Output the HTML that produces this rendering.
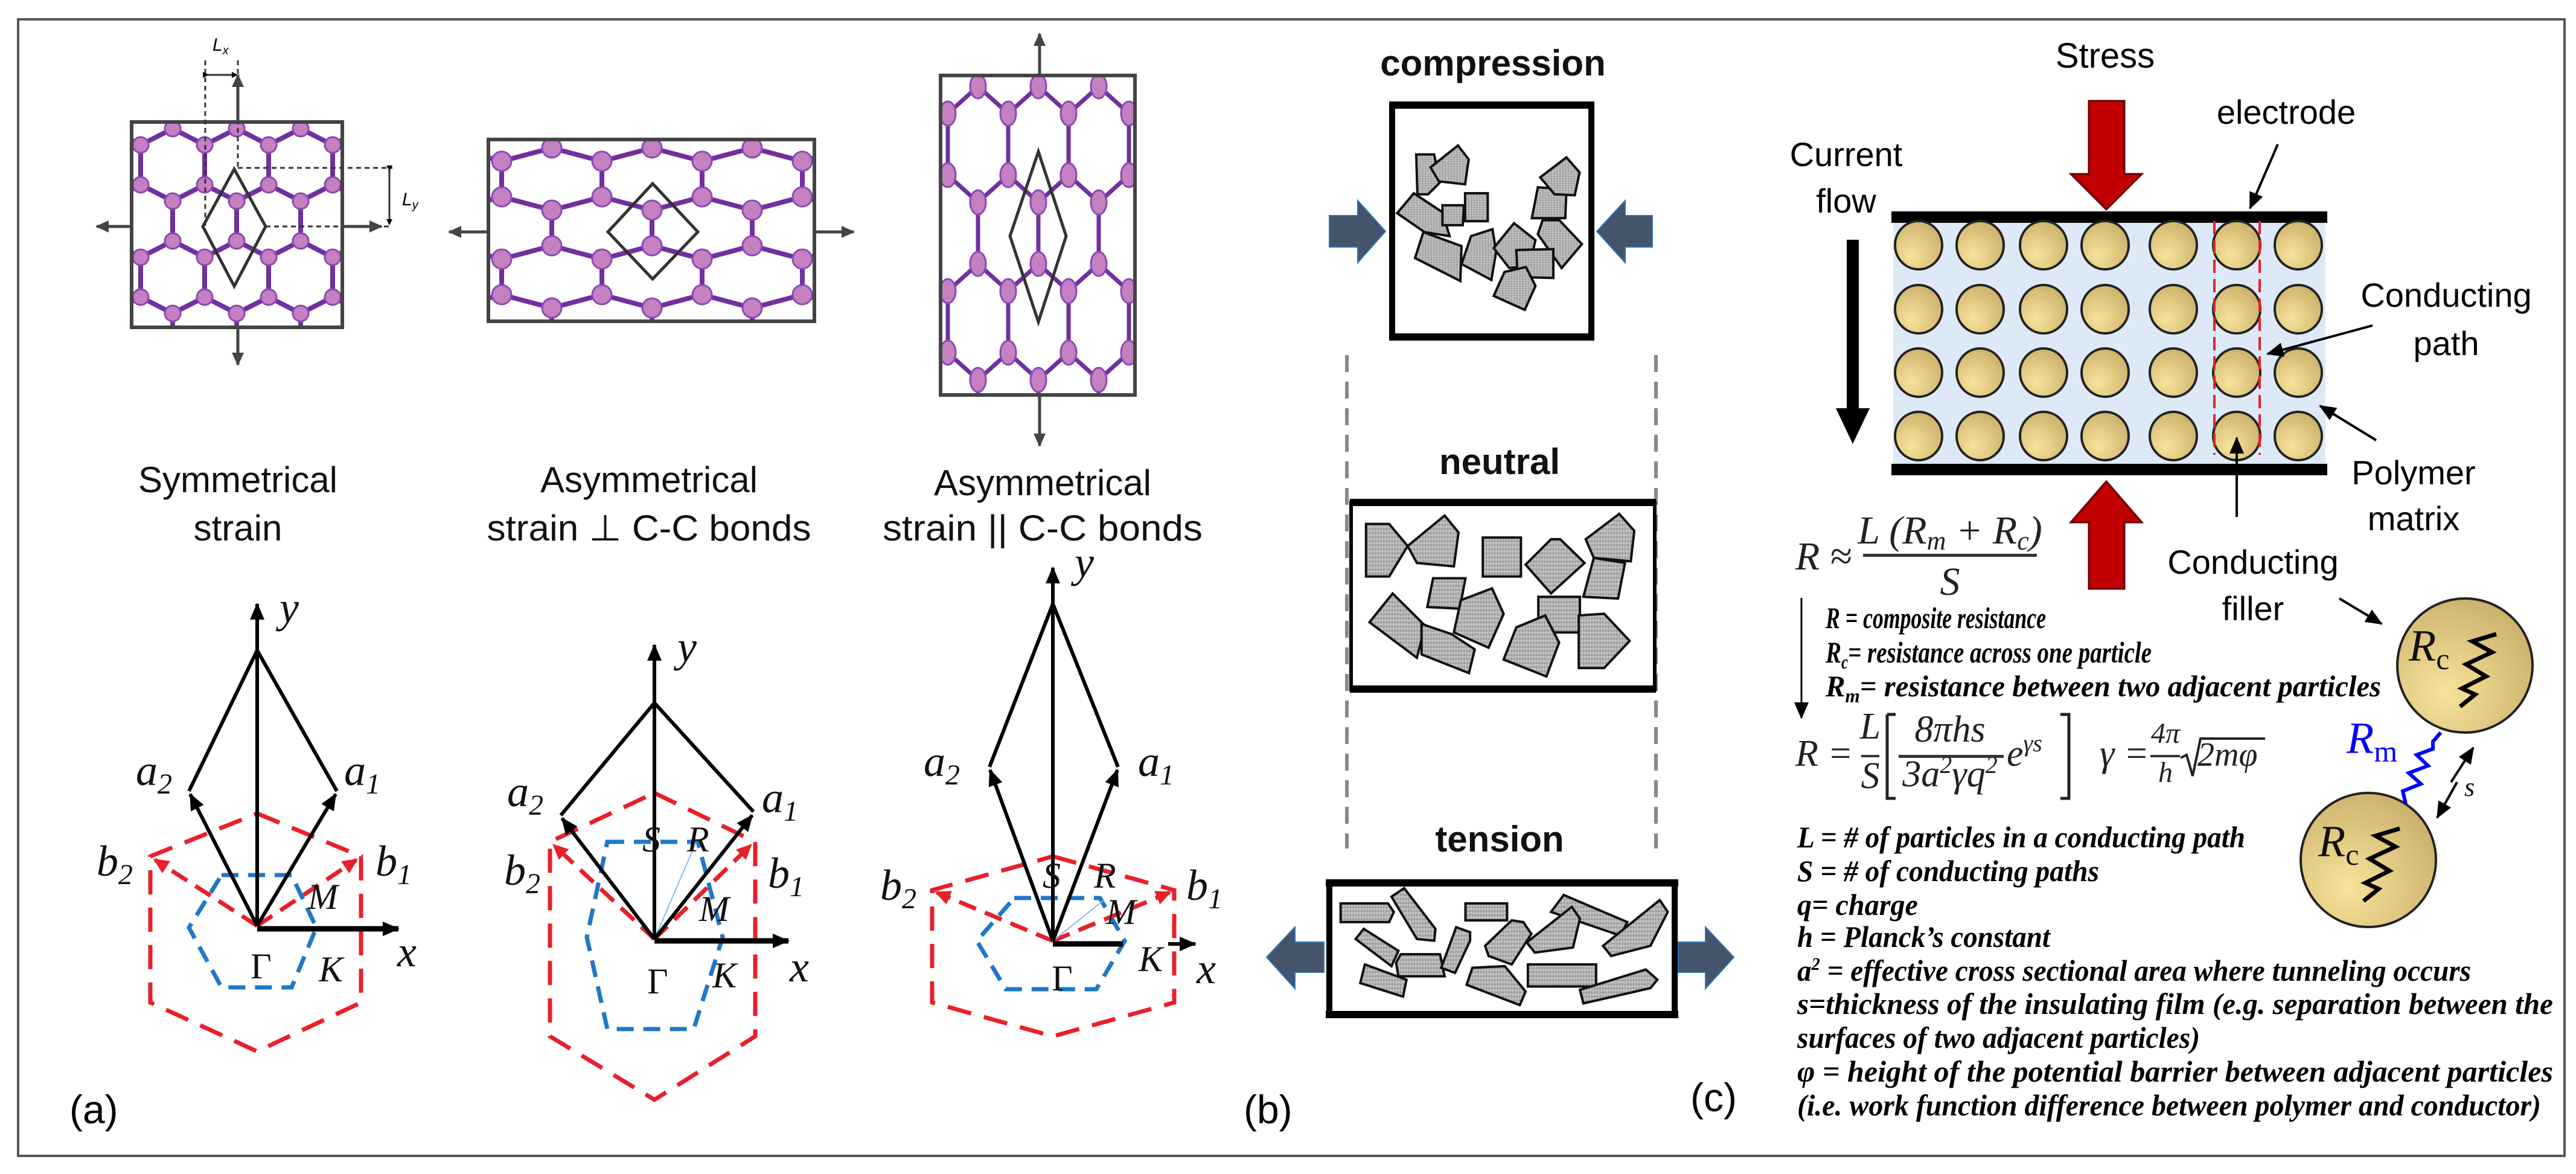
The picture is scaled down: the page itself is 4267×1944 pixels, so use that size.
<!DOCTYPE html>
<html><head><meta charset="utf-8"><style>
html,body{margin:0;padding:0;background:#fff}
svg{display:block}
text{font-family:"Liberation Sans",sans-serif}
.m text,text.m{font-family:"Liberation Serif",serif;font-style:italic}
text.d{font-family:"Liberation Serif",serif;font-style:italic;font-weight:bold;font-size:50px}
</style></head><body>
<svg width="4267" height="1944" viewBox="0 0 4267 1944" xmlns="http://www.w3.org/2000/svg">
<defs>
<marker id="ah" markerWidth="10" markerHeight="10" refX="8" refY="5" orient="auto" markerUnits="userSpaceOnUse" viewBox="0 0 10 10"><path d="M0,0 L10,5 L0,10 z" fill="#000"/></marker>
<marker id="ahb" markerWidth="28" markerHeight="24" refX="26" refY="12" orient="auto" markerUnits="userSpaceOnUse"><path d="M0,0 L28,12 L0,24 z" fill="#000"/></marker>
<marker id="ahg" markerWidth="22" markerHeight="20" refX="20" refY="10" orient="auto" markerUnits="userSpaceOnUse"><path d="M0,0 L22,10 L0,20 z" fill="#444"/></marker>
<marker id="ahr" markerWidth="26" markerHeight="24" refX="22" refY="12" orient="auto" markerUnits="userSpaceOnUse"><path d="M0,0 L26,12 L0,24 z" fill="#e8202a"/></marker>
<pattern id="p1" patternUnits="userSpaceOnUse" x="233" y="213" width="106" height="186">
<path d="M53,0 L0,27 M53,0 L106,27 M0,27 V93 M106,27 V93 M0,93 L53,120 L106,93 M53,120 V186" stroke="#7030a0" stroke-width="8" fill="none"/>
<g fill="#c580c0" stroke="#8a48b8" stroke-width="3"><circle cx="53" cy="0" r="13"/><circle cx="0" cy="27" r="13"/><circle cx="106" cy="27" r="13"/><circle cx="0" cy="93" r="13"/><circle cx="106" cy="93" r="13"/><circle cx="53" cy="120" r="13"/><circle cx="53" cy="186" r="13"/></g>
</pattern>
<pattern id="p2" patternUnits="userSpaceOnUse" x="831" y="245" width="166" height="162">
<path d="M83,0 L0,22 M83,0 L166,22 M0,22 V81 M166,22 V81 M0,81 L83,103 L166,81 M83,103 V162" stroke="#7030a0" stroke-width="8" fill="none"/>
<g fill="#c580c0" stroke="#8a48b8" stroke-width="3"><circle cx="83" cy="0" r="16"/><circle cx="0" cy="22" r="16"/><circle cx="166" cy="22" r="16"/><circle cx="0" cy="81" r="16"/><circle cx="166" cy="81" r="16"/><circle cx="83" cy="103" r="16"/><circle cx="83" cy="162" r="16"/></g>
</pattern>
<pattern id="p3" patternUnits="userSpaceOnUse" x="1570" y="143" width="100" height="294">
<path d="M50,0 L0,45 M50,0 L100,45 M0,45 V147 M100,45 V147 M0,147 L50,192 L100,147 M50,192 V294" stroke="#7030a0" stroke-width="7" fill="none"/>
<g fill="#c580c0" stroke="#8a48b8" stroke-width="3"><ellipse cx="50" cy="0" rx="13" ry="20"/><ellipse cx="0" cy="45" rx="13" ry="20"/><ellipse cx="100" cy="45" rx="13" ry="20"/><ellipse cx="0" cy="147" rx="13" ry="20"/><ellipse cx="100" cy="147" rx="13" ry="20"/><ellipse cx="50" cy="192" rx="13" ry="20"/><ellipse cx="50" cy="294" rx="13" ry="20"/></g>
</pattern>
<radialGradient id="gold" cx="0.35" cy="0.7" r="0.8"><stop offset="0" stop-color="#f7e39a"/><stop offset="1" stop-color="#c9ad68"/></radialGradient>
<pattern id="gr" patternUnits="userSpaceOnUse" width="12" height="12"><rect width="12" height="12" fill="#b4b4b4"/><circle cx="3" cy="4" r="2.5" fill="#8a8a8a"/><circle cx="9" cy="9" r="2" fill="#dcdcdc"/></pattern>
</defs>

<rect x="30" y="32" width="4218" height="1882" fill="none" stroke="#555" stroke-width="4"/>

<rect x="218" y="202" width="349" height="340" fill="url(#p1)" stroke="#444" stroke-width="6"/>
<rect x="809" y="231" width="540" height="301" fill="url(#p2)" stroke="#444" stroke-width="6"/>
<rect x="1558" y="125" width="322" height="529" fill="url(#p3)" stroke="#444" stroke-width="6"/>
<polygon points="388,280 440,375 388,474 336,375" fill="none" stroke="#333" stroke-width="5"/>
<polygon points="1081,304 1156,384 1081,462 1007,384" fill="none" stroke="#333" stroke-width="5"/>
<polygon points="1720,251 1766,391 1720,533 1673,391" fill="none" stroke="#333" stroke-width="5"/>
<g stroke="#333" stroke-width="3" stroke-dasharray="8,6" fill="none">
<line x1="340" y1="100" x2="340" y2="380"/><line x1="394" y1="100" x2="394" y2="280"/>
<line x1="394" y1="278" x2="650" y2="278"/><line x1="440" y1="375" x2="650" y2="375"/>
</g>
<line x1="344" y1="124" x2="392" y2="124" stroke="#333" stroke-width="3" marker-end="url(#ah)" marker-start="url(#ah)"/>
<line x1="645" y1="282" x2="645" y2="371" stroke="#333" stroke-width="3" marker-end="url(#ah)" marker-start="url(#ah)"/>
<text x="352" y="84" font-size="30" font-style="italic">L<tspan font-size="20" dy="6">x</tspan></text>
<text x="666" y="340" font-size="30" font-style="italic">L<tspan font-size="20" dy="6">y</tspan></text>
<g stroke="#444" stroke-width="5" fill="none">
<line x1="218" y1="375" x2="160" y2="375" marker-end="url(#ahg)"/>
<line x1="567" y1="375" x2="632" y2="375" marker-end="url(#ahg)"/>
<line x1="394" y1="202" x2="394" y2="124" marker-end="url(#ahg)"/>
<line x1="394" y1="542" x2="394" y2="604" marker-end="url(#ahg)"/>
<line x1="809" y1="384" x2="744" y2="384" marker-end="url(#ahg)"/>
<line x1="1349" y1="384" x2="1414" y2="384" marker-end="url(#ahg)"/>
<line x1="1722" y1="125" x2="1722" y2="56" marker-end="url(#ahg)"/>
<line x1="1722" y1="654" x2="1722" y2="738" marker-end="url(#ahg)"/>
</g>
<g font-size="60" text-anchor="middle" fill="#111">
<text x="394" y="815">Symmetrical</text><text x="394" y="895">strain</text>
<text x="1075" y="815">Asymmetrical</text><text x="1075" y="895" textLength="537" lengthAdjust="spacingAndGlyphs">strain ⊥ C-C bonds</text>
<text x="1727" y="820">Asymmetrical</text><text x="1727" y="895" textLength="530" lengthAdjust="spacingAndGlyphs">strain || C-C bonds</text>
</g>

<g fill="none">
<polygon points="426,1347 598,1418 598,1660 426,1741 249,1660 249,1418" stroke="#e8202a" stroke-width="7" stroke-dasharray="40,22"/>
<polygon points="367,1449 483,1449 524,1536 483,1635 367,1635 313,1536" stroke="#1f78c8" stroke-width="7" stroke-dasharray="28,16"/>
<line x1="426" y1="1533" x2="590" y2="1424" stroke="#e8202a" stroke-width="7" stroke-dasharray="30,16" marker-end="url(#ahr)"/>
<line x1="426" y1="1533" x2="257" y2="1424" stroke="#e8202a" stroke-width="7" stroke-dasharray="30,16" marker-end="url(#ahr)"/>
<line x1="426" y1="1533" x2="426" y2="1000" stroke="#000" stroke-width="6" marker-end="url(#ahb)"/>
<polyline points="313,1310 426,1077 558,1310" stroke="#000" stroke-width="6"/>
<line x1="426" y1="1533" x2="315" y2="1315" stroke="#000" stroke-width="6" marker-end="url(#ahb)"/>
<line x1="426" y1="1533" x2="556" y2="1315" stroke="#000" stroke-width="6" marker-end="url(#ahb)"/>
<line x1="426" y1="1538" x2="660" y2="1538" stroke="#000" stroke-width="9" marker-end="url(#ahb)"/>
</g>
<g fill="none">
<polygon points="1084,1313 1251,1394 1251,1716 1084,1821 911,1716 911,1394" stroke="#e8202a" stroke-width="7" stroke-dasharray="40,22"/>
<polygon points="1006,1394 1156,1394 1197,1552 1149,1704 1006,1704 972,1552" stroke="#1f78c8" stroke-width="7" stroke-dasharray="28,16"/>
<line x1="1084" y1="1555" x2="1243" y2="1400" stroke="#e8202a" stroke-width="7" stroke-dasharray="30,16" marker-end="url(#ahr)"/>
<line x1="1084" y1="1555" x2="918" y2="1400" stroke="#e8202a" stroke-width="7" stroke-dasharray="30,16" marker-end="url(#ahr)"/>
<line x1="1084" y1="1555" x2="1153" y2="1395" stroke="#8ab8e8" stroke-width="2"/>
<line x1="1084" y1="1555" x2="1084" y2="1068" stroke="#000" stroke-width="6" marker-end="url(#ahb)"/>
<polyline points="929,1350 1084,1164 1248,1344" stroke="#000" stroke-width="6"/>
<line x1="1084" y1="1555" x2="931" y2="1355" stroke="#000" stroke-width="6" marker-end="url(#ahb)"/>
<line x1="1084" y1="1555" x2="1246" y2="1350" stroke="#000" stroke-width="6" marker-end="url(#ahb)"/>
<line x1="1084" y1="1558" x2="1306" y2="1558" stroke="#000" stroke-width="9" marker-end="url(#ahb)"/>
</g>
<g fill="none">
<polygon points="1744,1418 1945,1474 1945,1660 1744,1716 1544,1660 1544,1474" stroke="#e8202a" stroke-width="7" stroke-dasharray="40,22"/>
<polygon points="1680,1487 1822,1487 1863,1558 1816,1638 1666,1638 1618,1558" stroke="#1f78c8" stroke-width="7" stroke-dasharray="28,16"/>
<line x1="1744" y1="1558" x2="1937" y2="1478" stroke="#e8202a" stroke-width="7" stroke-dasharray="30,16" marker-end="url(#ahr)"/>
<line x1="1744" y1="1558" x2="1552" y2="1478" stroke="#e8202a" stroke-width="7" stroke-dasharray="30,16" marker-end="url(#ahr)"/>
<line x1="1744" y1="1558" x2="1829" y2="1490" stroke="#8ab8e8" stroke-width="2"/>
<line x1="1744" y1="1558" x2="1744" y2="940" stroke="#000" stroke-width="6" marker-end="url(#ahb)"/>
<polyline points="1639,1270 1744,1000 1852,1270" stroke="#000" stroke-width="6"/>
<line x1="1744" y1="1558" x2="1640" y2="1275" stroke="#000" stroke-width="6" marker-end="url(#ahb)"/>
<line x1="1744" y1="1558" x2="1851" y2="1275" stroke="#000" stroke-width="6" marker-end="url(#ahb)"/>
<line x1="1744" y1="1563" x2="1860" y2="1563" stroke="#000" stroke-width="9"/>
<line x1="1935" y1="1563" x2="1980" y2="1563" stroke="#000" stroke-width="6" marker-end="url(#ahb)"/>
</g>
<g class="m" font-size="72" fill="#111">
<text x="463" y="1030">y</text>
<text x="225" y="1300">a<tspan font-size="48" dy="14">2</tspan></text>
<text x="570" y="1300">a<tspan font-size="48" dy="14">1</tspan></text>
<text x="160" y="1450">b<tspan font-size="48" dy="14">2</tspan></text>
<text x="622" y="1450">b<tspan font-size="48" dy="14">1</tspan></text>
<text x="510" y="1505" font-size="60">M</text>
<text x="528" y="1625" font-size="60">K</text>
<text x="415" y="1620" font-size="60" style="font-style:normal">Γ</text>
<text x="658" y="1600">x</text>

<text x="1122" y="1095">y</text>
<text x="840" y="1335">a<tspan font-size="48" dy="14">2</tspan></text>
<text x="1262" y="1345">a<tspan font-size="48" dy="14">1</tspan></text>
<text x="835" y="1465">b<tspan font-size="48" dy="14">2</tspan></text>
<text x="1272" y="1470">b<tspan font-size="48" dy="14">1</tspan></text>
<text x="1064" y="1410" font-size="60">S</text>
<text x="1138" y="1410" font-size="60">R</text>
<text x="1158" y="1525" font-size="60">M</text>
<text x="1180" y="1635" font-size="60">K</text>
<text x="1072" y="1645" font-size="60" style="font-style:normal">Γ</text>
<text x="1308" y="1625">x</text>

<text x="1780" y="955">y</text>
<text x="1530" y="1285">a<tspan font-size="48" dy="14">2</tspan></text>
<text x="1885" y="1285">a<tspan font-size="48" dy="14">1</tspan></text>
<text x="1458" y="1490">b<tspan font-size="48" dy="14">2</tspan></text>
<text x="1965" y="1490">b<tspan font-size="48" dy="14">1</tspan></text>
<text x="1727" y="1470" font-size="60">S</text>
<text x="1812" y="1470" font-size="60">R</text>
<text x="1832" y="1530" font-size="60">M</text>
<text x="1886" y="1608" font-size="60">K</text>
<text x="1742" y="1640" font-size="60" style="font-style:normal">Γ</text>
<text x="1982" y="1628">x</text>
</g>
<text x="115" y="1860" font-size="66">(a)</text>
<text x="2060" y="1860" font-size="66">(b)</text>
<text x="2800" y="1840" font-size="66">(c)</text>

<g font-size="60" font-weight="bold" text-anchor="middle" fill="#111">
<text x="2473" y="125">compression</text>
<text x="2484" y="785">neutral</text>
<text x="2484" y="1410">tension</text>
</g>
<g stroke="#888" stroke-width="6" stroke-dasharray="28,16">
<line x1="2231" y1="588" x2="2231" y2="1405"/><line x1="2743" y1="588" x2="2743" y2="1405"/>
</g>
<rect x="2306" y="174" width="330" height="384" fill="#fff" stroke="#000" stroke-width="10"/>
<rect x="2301" y="168" width="340" height="12" fill="#000"/><rect x="2301" y="552" width="340" height="12" fill="#000"/>
<g transform="translate(2180,160) scale(0.395,0.33)" fill="url(#gr)" stroke="#111" stroke-width="4">
<polygon vector-effect="non-scaling-stroke" points="420,290 495,290 520,430 470,490 425,490"/>
<polygon vector-effect="non-scaling-stroke" points="480,355 595,245 640,315 625,440 515,425"/>
<polygon vector-effect="non-scaling-stroke" points="340,585 410,485 530,580 560,700 455,680"/>
<polygon vector-effect="non-scaling-stroke" points="530,545 620,545 615,645 530,645"/>
<polygon vector-effect="non-scaling-stroke" points="625,485 720,485 720,625 625,625"/>
<polygon vector-effect="non-scaling-stroke" points="415,810 450,680 610,750 605,925"/>
<polygon vector-effect="non-scaling-stroke" points="610,840 650,700 740,665 755,780 735,920"/>
<polygon vector-effect="non-scaling-stroke" points="905,610 930,455 1050,465 1045,610"/>
<polygon vector-effect="non-scaling-stroke" points="940,405 1050,305 1105,380 1085,495 1000,490"/>
<polygon vector-effect="non-scaling-stroke" points="930,690 950,620 1020,620 1115,740 1030,860"/>
<polygon vector-effect="non-scaling-stroke" points="745,760 830,635 920,720 895,850 810,860"/>
<polygon vector-effect="non-scaling-stroke" points="840,770 995,765 995,910 845,905"/>
<polygon vector-effect="non-scaling-stroke" points="745,1000 790,880 880,855 920,950 875,1070"/>
</g>
<rect x="2238" y="832" width="503" height="310" fill="#fff" stroke="#000" stroke-width="6"/>
<rect x="2236" y="826" width="507" height="12" fill="#000"/><rect x="2236" y="1135" width="507" height="12" fill="#000"/>
<g transform="translate(2190,820) scale(0.383,0.561)" fill="url(#gr)" stroke="#111" stroke-width="4">
<polygon vector-effect="non-scaling-stroke" points="190,85 290,85 370,150 290,240 190,240"/>
<polygon vector-effect="non-scaling-stroke" points="370,150 530,60 590,110 570,210 410,200"/>
<polygon vector-effect="non-scaling-stroke" points="455,330 480,245 620,245 595,335"/>
<polygon vector-effect="non-scaling-stroke" points="205,375 305,290 445,385 410,480"/>
<polygon vector-effect="non-scaling-stroke" points="430,380 560,410 660,455 635,525 430,470"/>
<polygon vector-effect="non-scaling-stroke" points="570,405 600,310 735,275 785,350 720,450"/>
<polygon vector-effect="non-scaling-stroke" points="695,125 860,125 860,240 695,240"/>
<polygon vector-effect="non-scaling-stroke" points="880,205 990,130 1030,130 1135,200 990,290"/>
<polygon vector-effect="non-scaling-stroke" points="1140,130 1285,55 1350,105 1335,195 1175,185"/>
<polygon vector-effect="non-scaling-stroke" points="1130,300 1175,185 1310,200 1280,305"/>
<polygon vector-effect="non-scaling-stroke" points="935,300 1115,300 1115,405 935,405"/>
<polygon vector-effect="non-scaling-stroke" points="785,485 840,390 965,355 1025,435 970,535"/>
<polygon vector-effect="non-scaling-stroke" points="1110,355 1220,350 1330,430 1220,510 1110,510"/>
</g>
<rect x="2202" y="1462" width="572" height="218" fill="#fff" stroke="#000" stroke-width="10"/>
<rect x="2196" y="1456" width="584" height="12" fill="#000"/><rect x="2196" y="1674" width="584" height="12" fill="#000"/>
<g transform="translate(2190,820) scale(0.383,0.561)" fill="url(#gr)" stroke="#111" stroke-width="4">
<polygon vector-effect="non-scaling-stroke" points="80,1205 285,1205 310,1230 290,1260 80,1260"/>
<polygon vector-effect="non-scaling-stroke" points="300,1185 355,1160 490,1280 485,1315 410,1310"/>
<polygon vector-effect="non-scaling-stroke" points="145,1310 180,1280 330,1345 300,1390"/>
<polygon vector-effect="non-scaling-stroke" points="320,1380 340,1355 510,1355 530,1420 330,1420"/>
<polygon vector-effect="non-scaling-stroke" points="165,1440 185,1385 365,1430 350,1480"/>
<polygon vector-effect="non-scaling-stroke" points="515,1395 580,1275 640,1290 640,1315 575,1410"/>
<polygon vector-effect="non-scaling-stroke" points="620,1205 800,1205 800,1255 620,1255"/>
<polygon vector-effect="non-scaling-stroke" points="705,1330 820,1255 870,1260 905,1295 820,1385 720,1360"/>
<polygon vector-effect="non-scaling-stroke" points="625,1445 650,1395 790,1390 880,1465 855,1505"/>
<polygon vector-effect="non-scaling-stroke" points="890,1385 1185,1385 1185,1450 890,1450"/>
<polygon vector-effect="non-scaling-stroke" points="990,1230 1045,1180 1320,1260 1290,1300"/>
<polygon vector-effect="non-scaling-stroke" points="885,1320 1080,1215 1115,1250 1085,1335 920,1350"/>
<polygon vector-effect="non-scaling-stroke" points="1215,1330 1460,1195 1495,1230 1420,1330 1250,1360"/>
<polygon vector-effect="non-scaling-stroke" points="1115,1460 1400,1400 1450,1430 1420,1455 1130,1500"/>
</g>
<g fill="#44546a" stroke="#2e75b6" stroke-width="2">
<polygon points="2202,357 2249,357 2249,332 2295,383 2249,435 2249,409 2202,409"/>
<polygon points="2737,357 2692,357 2692,332 2645,383 2692,435 2692,409 2737,409"/>
<polygon points="2193,1560 2145,1560 2145,1535 2098,1585 2145,1637 2145,1610 2193,1610"/>
<polygon points="2780,1560 2825,1560 2825,1535 2872,1585 2825,1637 2825,1610 2780,1610"/>
</g>

<text x="3487" y="112" font-size="58" text-anchor="middle">Stress</text>
<text x="3787" y="205" font-size="56" text-anchor="middle">electrode</text>
<text x="3058" y="275" font-size="56" text-anchor="middle">Current</text>
<text x="3058" y="352" font-size="56" text-anchor="middle">flow</text>
<text x="4052" y="508" font-size="56" text-anchor="middle">Conducting</text>
<text x="4052" y="588" font-size="56" text-anchor="middle">path</text>
<text x="3998" y="802" font-size="56" text-anchor="middle">Polymer</text>
<text x="3998" y="878" font-size="56" text-anchor="middle">matrix</text>
<text x="3732" y="950" font-size="56" text-anchor="middle">Conducting</text>
<text x="3732" y="1027" font-size="56" text-anchor="middle">filler</text>

<rect x="3136" y="369" width="716" height="399" fill="#dde9f6"/>
<rect x="3133" y="350" width="722" height="19" fill="#000"/>
<rect x="3133" y="768" width="722" height="19" fill="#000"/>
<g fill="url(#gold)" stroke="#222" stroke-width="4">
<g id="row"><ellipse cx="3178" cy="406" rx="39" ry="40"/><ellipse cx="3280" cy="406" rx="39" ry="40"/><ellipse cx="3385" cy="406" rx="39" ry="40"/><ellipse cx="3487" cy="406" rx="39" ry="40"/><ellipse cx="3600" cy="406" rx="39" ry="40"/><ellipse cx="3705" cy="406" rx="39" ry="40"/><ellipse cx="3807" cy="406" rx="39" ry="40"/></g>
<use href="#row" y="106"/><use href="#row" y="211"/><use href="#row" y="316"/>
</g>
<g stroke="#e8202a" stroke-width="4" stroke-dasharray="22,10"><line x1="3668" y1="366" x2="3668" y2="753"/><line x1="3743" y1="366" x2="3743" y2="753"/></g>
<polygon points="3460,167 3519,167 3519,288 3548,288 3489,347 3430,288 3460,288" fill="#c00000" stroke="#600" stroke-width="3"/>
<polygon points="3489,797 3548,865 3519,865 3519,975 3460,975 3460,865 3430,865" fill="#c00000" stroke="#600" stroke-width="3"/>
<rect x="3059" y="397" width="20" height="282" fill="#000"/>
<polygon points="3041,676 3097,676 3069,735" fill="#000"/>
<g stroke="#000" stroke-width="4" fill="none">
<line x1="3773" y1="239" x2="3727" y2="345" marker-end="url(#ahb)"/>
<line x1="3930" y1="539" x2="3756" y2="586" marker-end="url(#ahb)"/>
<line x1="3936" y1="729" x2="3843" y2="672" marker-end="url(#ahb)"/>
<line x1="3705" y1="856" x2="3705" y2="725" marker-end="url(#ahb)"/>
<line x1="3875" y1="991" x2="3945" y2="1033" marker-end="url(#ahb)"/>
<line x1="2984" y1="990" x2="2984" y2="1189" stroke-width="3" marker-end="url(#ahb)"/>
<line x1="4060" y1="1295" x2="4097" y2="1238" marker-end="url(#ahb)"/>
<line x1="4070" y1="1295" x2="4037" y2="1354" marker-end="url(#ahb)"/>
</g>
<g class="m" font-size="66" fill="#222">
<text x="2974" y="943">R ≈</text>
<text x="3230" y="900" text-anchor="middle">L (R<tspan font-size="44" dy="10">m</tspan><tspan dy="-10"> + R</tspan><tspan font-size="44" dy="10">c</tspan><tspan dy="-10">)</tspan></text>
<text x="3230" y="985" text-anchor="middle">S</text>
</g>
<rect x="3086" y="917" width="288" height="5" fill="#333"/>
<text class="d" x="3024" y="1040" textLength="365" lengthAdjust="spacingAndGlyphs">R = composite resistance</text>
<text class="d" x="3024" y="1097" textLength="540" lengthAdjust="spacingAndGlyphs">R<tspan font-size="32" dy="10">c</tspan><tspan dy="-10">= resistance across one particle</tspan></text>
<text class="d" x="3024" y="1153" textLength="920" lengthAdjust="spacingAndGlyphs">R<tspan font-size="32" dy="10">m</tspan><tspan dy="-10">= resistance between two adjacent particles</tspan></text>
<g class="m" fill="#222" font-size="62">
<text x="2974" y="1268">R =</text>
<text x="3098" y="1223" text-anchor="middle">L</text>
<text x="3098" y="1305" text-anchor="middle">S</text>
<text x="3230" y="1228" text-anchor="middle">8πhs</text>
<text x="3230" y="1302" text-anchor="middle">3a<tspan font-size="40" dy="-22">2</tspan><tspan dy="22">γq</tspan><tspan font-size="40" dy="-22">2</tspan></text>
<text x="3324" y="1268">e<tspan font-size="40" dy="-24">γs</tspan></text>
<text x="3478" y="1268">γ =</text>
<text x="3587" y="1230" text-anchor="middle" font-size="48">4π</text>
<text x="3587" y="1295" text-anchor="middle" font-size="48">h</text>
<text x="3640" y="1268" font-size="56">2mφ</text>
</g>
<rect x="3083" y="1250" width="30" height="4" fill="#333"/>
<rect x="3145" y="1250" width="174" height="5" fill="#333"/>
<rect x="3562" y="1250" width="49" height="4" fill="#333"/>
<path d="M3126,1183 H3140 M3126,1183 V1322 H3140 M3413,1183 H3427 V1322 H3413" stroke="#222" stroke-width="5" fill="none"/>
<path d="M3612,1255 L3622,1250 L3632,1285 L3645,1223 H3752" stroke="#222" stroke-width="4" fill="none"/>
<text class="d" x="2977" y="1403" textLength="742" lengthAdjust="spacingAndGlyphs">L = # of particles in a conducting path</text>
<text class="d" x="2977" y="1459" textLength="500" lengthAdjust="spacingAndGlyphs">S = # of conducting paths</text>
<text class="d" x="2977" y="1515" textLength="200" lengthAdjust="spacingAndGlyphs">q= charge</text>
<text class="d" x="2977" y="1568" textLength="419" lengthAdjust="spacingAndGlyphs">h = Planck’s constant</text>
<text class="d" x="2977" y="1624" textLength="1116" lengthAdjust="spacingAndGlyphs">a<tspan font-size="30" dy="-18">2</tspan><tspan dy="18"> = effective cross sectional area where tunneling occurs</tspan></text>
<text class="d" x="2977" y="1679" textLength="1252" lengthAdjust="spacingAndGlyphs">s=thickness of the insulating film (e.g. separation between the</text>
<text class="d" x="2977" y="1735" textLength="667" lengthAdjust="spacingAndGlyphs">surfaces of two adjacent particles)</text>
<text class="d" x="2977" y="1791" textLength="1252" lengthAdjust="spacingAndGlyphs">φ = height of the potential barrier between adjacent particles</text>
<text class="d" x="2977" y="1847" textLength="1232" lengthAdjust="spacingAndGlyphs">(i.e. work function difference between polymer and conductor)</text>
<ellipse cx="4083" cy="1102" rx="112" ry="111" fill="url(#gold)" stroke="#222" stroke-width="4"/>
<ellipse cx="3923" cy="1424" rx="112" ry="111" fill="url(#gold)" stroke="#222" stroke-width="4"/>
<g class="m" font-size="74" fill="#111">
<text x="3990" y="1094">R<tspan font-size="50" dy="14" style="font-style:normal">c</tspan></text>
<text x="3840" y="1418">R<tspan font-size="50" dy="14" style="font-style:normal">c</tspan></text>
<text x="3887" y="1247" fill="#0000ff">R<tspan font-size="50" dy="14" style="font-style:normal">m</tspan></text>
<text x="4082" y="1318" font-size="44">s</text>
</g>
<path d="M4135,1050 L4095,1062 L4128,1080 L4085,1100 L4118,1120 L4078,1140 L4100,1150 L4075,1170" stroke="#000" stroke-width="7" fill="none"/>
<path d="M3975,1372 L3935,1384 L3968,1402 L3925,1422 L3958,1442 L3918,1462 L3940,1472 L3915,1492" stroke="#000" stroke-width="7" fill="none"/>
<path d="M4043,1213 L4030,1228 L4030,1240 L4003,1250 L4022,1268 L3990,1280 L4010,1298 L3980,1310 L3985,1331" stroke="#0000ff" stroke-width="6" fill="none"/>
</svg>
</body></html>
